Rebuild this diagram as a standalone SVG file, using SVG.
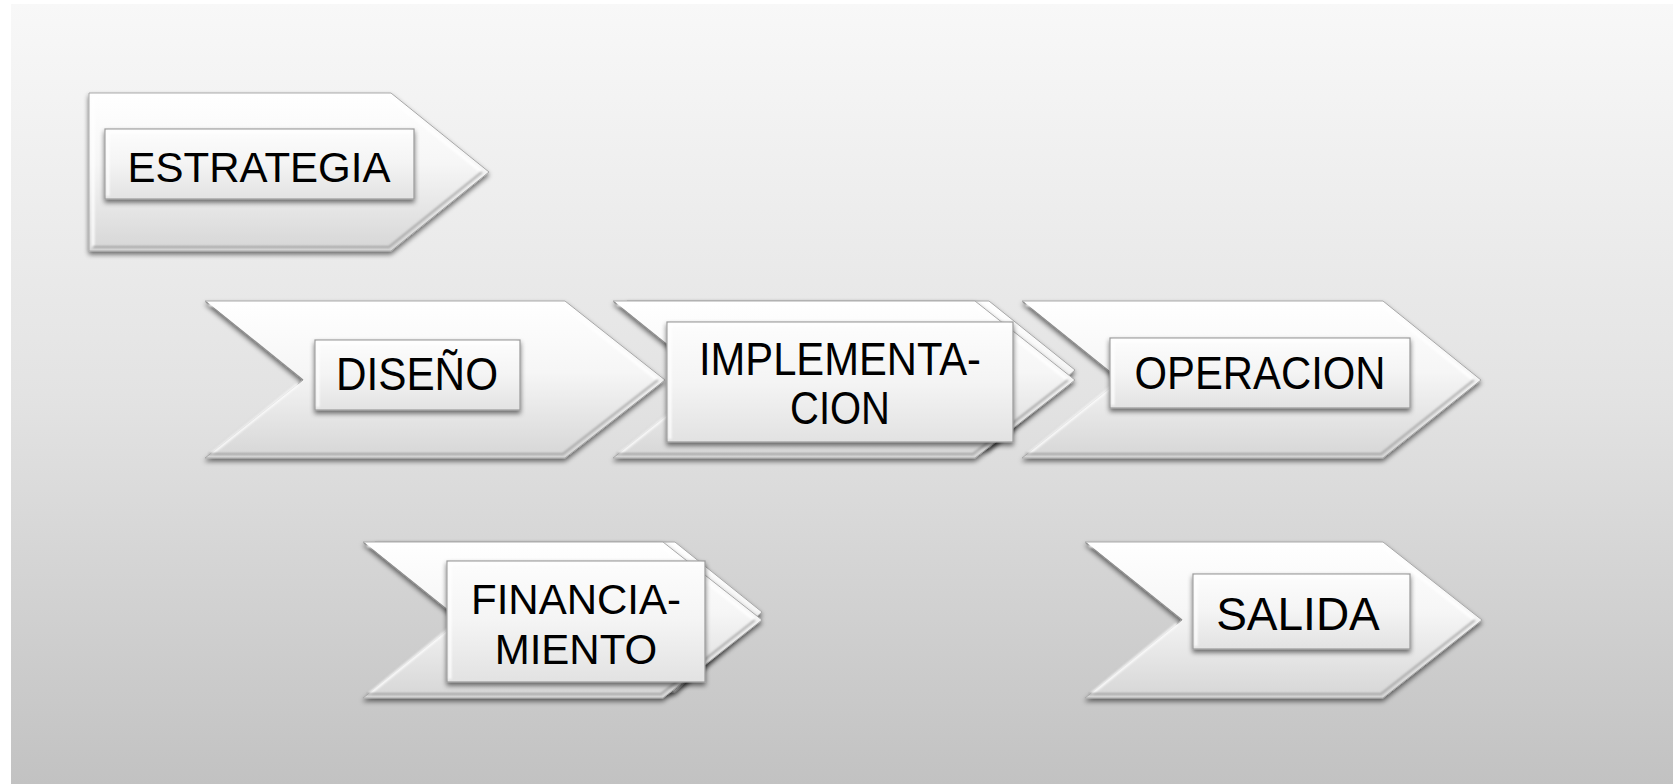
<svg xmlns="http://www.w3.org/2000/svg" width="1678" height="784" viewBox="0 0 1678 784">
  <defs>
    <linearGradient id="bg" x1="0" y1="0" x2="0" y2="1">
      <stop offset="0" stop-color="#f8f8f8"/>
      <stop offset="0.5" stop-color="#e3e3e3"/>
      <stop offset="1" stop-color="#c2c2c2"/>
    </linearGradient>
    <linearGradient id="chev" x1="0" y1="0" x2="0" y2="1">
      <stop offset="0" stop-color="#ffffff"/>
      <stop offset="0.45" stop-color="#f6f6f6"/>
      <stop offset="1" stop-color="#d6d6d6"/>
    </linearGradient>
    <linearGradient id="box" x1="0" y1="0" x2="0" y2="1">
      <stop offset="0" stop-color="#fdfdfd"/>
      <stop offset="0.5" stop-color="#f4f4f4"/>
      <stop offset="1" stop-color="#e2e2e2"/>
    </linearGradient>
    <filter id="shadow" x="-10%" y="-10%" width="120%" height="130%">
      <feGaussianBlur in="SourceAlpha" stdDeviation="2.5"/>
      <feOffset dx="0" dy="3" result="b"/>
      <feComponentTransfer><feFuncA type="linear" slope="0.55"/></feComponentTransfer>
      <feMerge><feMergeNode/><feMergeNode in="SourceGraphic"/></feMerge>
    </filter>
    <filter id="soft" x="-5%" y="-5%" width="110%" height="110%">
      <feGaussianBlur stdDeviation="1.2"/>
    </filter>
  </defs>
  <style>
    .chev { fill: url(#chev); stroke: #a8a8a8; stroke-width: 1; }
    .bevel { fill: none; stroke: #ffffff; stroke-width: 3; stroke-opacity: 0.9; }
    .bevel-dark { fill: none; stroke: #8c8c8c; stroke-width: 2; stroke-opacity: 0.7; }
    .notch-dark { fill: none; stroke: #8a8a8a; stroke-width: 1.6; stroke-opacity: 0.8; }
    .box { fill: url(#box); stroke: #9a9a9a; stroke-width: 1.2; }
    .boxhl { fill: none; stroke: #ffffff; stroke-width: 2.5; }
    .lbl { font-family: "Liberation Sans", Arial, sans-serif; fill: #000000; text-anchor: middle; }
  </style>

  <rect x="11" y="4" width="1662" height="780" fill="url(#bg)"/>

  <g id="connectors"></g>

  <g id="estrategia">
    <path class="chev" filter="url(#shadow)" d="M89,93 L391,93 L489,172 L391,251 L89,251 Z"/>
    <path class="bevel" filter="url(#soft)" d="M93,247 L93,97 L389,97 L482,172"/>
    <path class="bevel-dark" filter="url(#soft)" d="M482,172 L389,247 L93,247"/>
    <g filter="url(#shadow)">
      <rect class="box" x="105" y="129" width="309" height="70"/>
    </g>
    <path class="boxhl" filter="url(#soft)" d="M108,196 L108,132 L411,132"/>
    <text class="lbl" x="259" y="182" font-size="42">ESTRATEGIA</text>
  </g>

  <g id="diseno">
    <path class="chev" filter="url(#shadow)" d="M205,301 L565,301 L665,380 L565,458 L205,458 L303,380 Z"/>
    <path class="notch-dark" d="M206,302 L303,380"/>
    <path class="bevel" filter="url(#soft)" d="M209,305 L563,305 L658,380"/>
    <path class="bevel" filter="url(#soft)" d="M298,384 L211,454"/>
    <path class="bevel-dark" filter="url(#soft)" d="M658,380 L563,454 L209,454"/>
    <g filter="url(#shadow)">
      <rect class="box" x="315" y="340" width="205" height="70"/>
    </g>
    <path class="boxhl" filter="url(#soft)" d="M318,407 L318,343 L517,343"/>
    <text class="lbl" x="417" y="390" font-size="46" textLength="162" lengthAdjust="spacingAndGlyphs">DISEÑO</text>
  </g>

  <g id="implementacion">
    <path class="chev" filter="url(#shadow)" d="M627,301 L989,301 L1075,370 L989,448 L627,448 L725,370 Z"/>
    <path class="chev" filter="url(#shadow)" d="M613,301 L975,301 L1075,380 L975,458 L613,458 L711,380 Z"/>
    <path class="notch-dark" d="M614,302 L711,380"/>
    <path class="bevel" filter="url(#soft)" d="M617,305 L973,305 L1068,380"/>
    <path class="bevel" filter="url(#soft)" d="M706,384 L619,454"/>
    <path class="bevel-dark" filter="url(#soft)" d="M1068,380 L973,454 L617,454"/>
    <g filter="url(#shadow)">
      <rect class="box" x="667" y="322" width="346" height="120"/>
    </g>
    <path class="boxhl" filter="url(#soft)" d="M670,439 L670,325 L1010,325"/>
    <text class="lbl" x="840" y="375" font-size="46" textLength="282" lengthAdjust="spacingAndGlyphs">IMPLEMENTA-</text>
    <text class="lbl" x="840" y="424" font-size="46" textLength="100" lengthAdjust="spacingAndGlyphs">CION</text>
  </g>

  <g id="operacion">
    <path class="chev" filter="url(#shadow)" d="M1022,301 L1383,301 L1481,380 L1383,458 L1022,458 L1120,380 Z"/>
    <path class="notch-dark" d="M1023,302 L1120,380"/>
    <path class="bevel" filter="url(#soft)" d="M1026,305 L1381,305 L1474,380"/>
    <path class="bevel" filter="url(#soft)" d="M1115,384 L1028,454"/>
    <path class="bevel-dark" filter="url(#soft)" d="M1474,380 L1381,454 L1026,454"/>
    <g filter="url(#shadow)">
      <rect class="box" x="1110" y="338" width="300" height="70"/>
    </g>
    <path class="boxhl" filter="url(#soft)" d="M1113,405 L1113,341 L1407,341"/>
    <text class="lbl" x="1260" y="389" font-size="46" textLength="251" lengthAdjust="spacingAndGlyphs">OPERACION</text>
  </g>

  <g id="financiamiento">
    <path class="chev" filter="url(#shadow)" d="M375,542 L675,542 L762,612 L675,692 L375,692 L472,612 Z"/>
    <path class="chev" filter="url(#shadow)" d="M363,542 L663,542 L762,620 L663,698 L363,698 L460,620 Z"/>
    <path class="notch-dark" d="M364,543 L460,620"/>
    <path class="bevel" filter="url(#soft)" d="M367,546 L661,546 L755,620"/>
    <path class="bevel" filter="url(#soft)" d="M455,624 L369,694"/>
    <path class="bevel-dark" filter="url(#soft)" d="M755,620 L661,694 L367,694"/>
    <g filter="url(#shadow)">
      <rect class="box" x="447" y="561" width="258" height="121"/>
    </g>
    <path class="boxhl" filter="url(#soft)" d="M450,679 L450,564 L702,564"/>
    <text class="lbl" x="576" y="614" font-size="42">FINANCIA-</text>
    <text class="lbl" x="576" y="664" font-size="42">MIENTO</text>
  </g>

  <g id="salida">
    <path class="chev" filter="url(#shadow)" d="M1085,542 L1383,542 L1482,620 L1383,698 L1085,698 L1182,620 Z"/>
    <path class="notch-dark" d="M1086,543 L1182,620"/>
    <path class="bevel" filter="url(#soft)" d="M1089,546 L1381,546 L1475,620"/>
    <path class="bevel" filter="url(#soft)" d="M1177,624 L1091,694"/>
    <path class="bevel-dark" filter="url(#soft)" d="M1475,620 L1381,694 L1089,694"/>
    <g filter="url(#shadow)">
      <rect class="box" x="1193" y="574" width="217" height="75"/>
    </g>
    <path class="boxhl" filter="url(#soft)" d="M1196,646 L1196,577 L1407,577"/>
    <text class="lbl" x="1298" y="630" font-size="46">SALIDA</text>
  </g>
</svg>
